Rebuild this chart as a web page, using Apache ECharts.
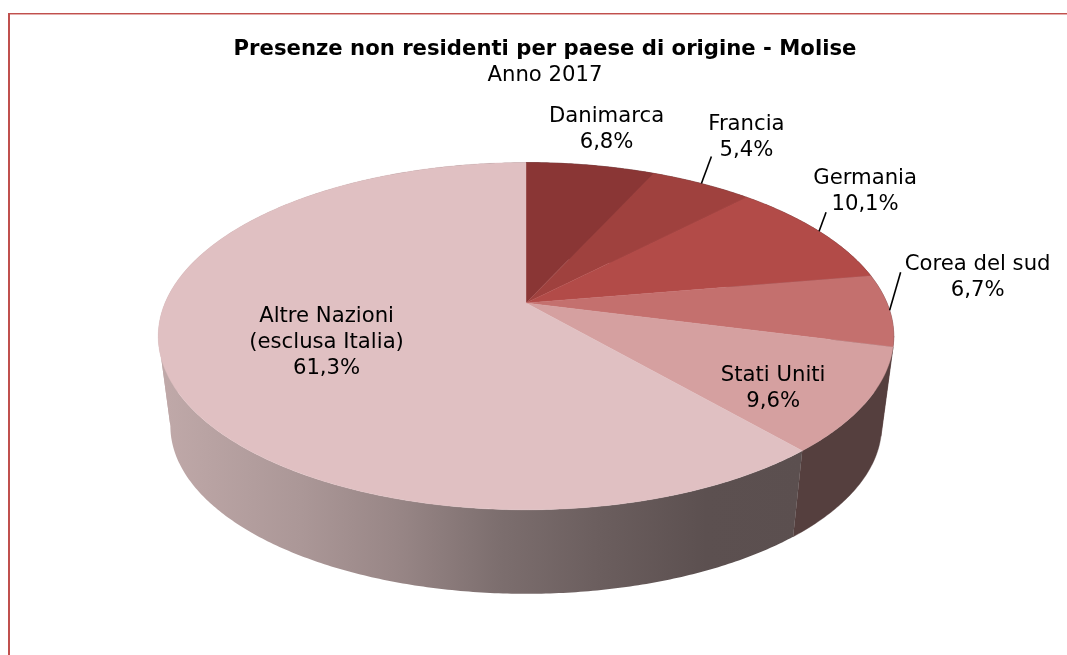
<!DOCTYPE html>
<html>
<head>
<meta charset="utf-8">
<style>html,body{margin:0;padding:0;background:#fff}#c{width:1067px;height:655px}</style>
<script src="https://cdn.jsdelivr.net/npm/echarts@6/dist/echarts.min.js"></script>
</head>
<body>
<div id="c"></div>
<script>
// ---- data ----
const categories = ['Danimarca', 'Francia', 'Germania', 'Corea del sud', 'Stati Uniti', 'Altre Nazioni\n(esclusa Italia)'];
const values = [6.8, 5.4, 10.1, 6.7, 9.6, 61.3];
const titleText = 'Presenze non residenti per paese di origine - Molise';
const subtitleText = 'Anno 2017';

// ---- styles ----
const topColors = ['#8a3635', '#9f413e', '#b24b48', '#c4706e', '#d5a0a0', '#e0c0c2'];
const sideColors = ['#4a2b2b', '#4f2e2e', '#553030', '#5c4040', '#553f3e', null];
const labelOffsets = [[16, -36], [45, -46], [46, -39.5], [88, -32.5], [-94, -13], [163, -23]];
const leaderOffsets = [null, [10, -27], [7, -19], [11, -38], null, null];
const FONT = '"DejaVu Sans", Verdana, sans-serif';

// ---- perspective projection of the disc ----
const CX = 526, CY = 303, R = 361, H = 167.3, K = 0.191;
const VP = 3055, S = 0.967;
const SUM = values.reduce((a, b) => a + b, 0);
const cum = [0];
values.forEach((v, i) => cum.push(cum[i] + v));
const ang = v => v / SUM * Math.PI * 2;
// angles where the rim turns from front-facing to back-facing
const FOLDS = [Math.PI - Math.acos(K), Math.PI + Math.acos(K)];
function topPt(t) {
  const X = Math.sin(t), Z = Math.cos(t), d = 1 + K * Z;
  return [CX + R * X / d, CY - H * Z / d];
}
function botPt(t) {
  const p = topPt(t);
  return [CX + (p[0] - CX) * S, VP + (p[1] - VP) * S];
}
function arc(fn, a, b) {
  const n = Math.max(2, Math.ceil(Math.abs(b - a) / 0.01));
  const out = [];
  for (let i = 0; i <= n; i++) out.push(fn(a + (b - a) * i / n));
  return out;
}
function rimPieces(a, b) {
  const cuts = [a].concat(FOLDS.filter(f => f > a && f < b), [b]);
  const out = [];
  for (let i = 0; i < cuts.length - 1; i++) {
    out.push(arc(topPt, cuts[i], cuts[i + 1]).concat(arc(botPt, cuts[i + 1], cuts[i])));
  }
  return out;
}

const sideGradient = new echarts.graphic.LinearGradient(160, 0, 802, 0, [
  { offset: 0, color: '#c0a9a9' },
  { offset: 0.22, color: '#ab9797' },
  { offset: 0.37, color: '#988686' },
  { offset: 0.53, color: '#7c6e6e' },
  { offset: 0.685, color: '#6b5e5e' },
  { offset: 0.85, color: '#5c5050' },
  { offset: 1, color: '#5b4f4f' }
], true);

const seriesData = values.map((v, i) => ({ name: categories[i], value: v }));

const option = {
  animation: false,
  backgroundColor: '#ffffff',
  title: {
    text: titleText,
    subtext: subtitleText,
    left: 540, top: 34, textAlign: 'center', itemGap: 5,
    textStyle: { fontFamily: FONT, fontSize: 21.2, fontWeight: 'bold', color: '#000' },
    subtextStyle: { fontFamily: FONT, fontSize: 21.2, color: '#000' }
  },
  graphic: [
    { type: 'rect', shape: { x: 8, y: 13, width: 1059, height: 1.4 }, style: { fill: '#c0504d' }, silent: true },
    { type: 'rect', shape: { x: 8, y: 14.4, width: 1059, height: 0.7 }, style: { fill: '#eab6b4' }, silent: true },
    { type: 'rect', shape: { x: 8, y: 13, width: 2, height: 642 }, style: { fill: '#c0504d' }, silent: true }
  ],
  series: [
    {
      type: 'custom', coordinateSystem: 'none', silent: true, z: 1, data: seriesData,
      renderItem(params) {
        const i = params.dataIndex;
        const fill = sideColors[i] || sideGradient;
        return {
          type: 'group',
          children: rimPieces(ang(cum[i]), ang(cum[i + 1])).map(pts => ({
            type: 'polygon', shape: { points: pts },
            style: { fill, stroke: sideColors[i] ? fill : null, lineWidth: sideColors[i] ? 0.4 : 0 }
          }))
        };
      }
    },
    {
      type: 'custom', coordinateSystem: 'none', silent: true, z: 2, data: seriesData,
      renderItem(params) {
        const i = params.dataIndex;
        const pts = [[CX, CY]].concat(arc(topPt, ang(cum[i]), ang(cum[i + 1])));
        return { type: 'polygon', shape: { points: pts }, style: { fill: topColors[i], stroke: topColors[i], lineWidth: 0.4 } };
      }
    },
    {
      type: 'custom', coordinateSystem: 'none', silent: true, z: 3, data: seriesData,
      renderItem(params) {
        const i = params.dataIndex;
        const p = topPt(ang((cum[i] + cum[i + 1]) / 2));
        const off = labelOffsets[i], lead = leaderOffsets[i];
        const children = [{
          type: 'text',
          style: {
            x: p[0] + off[0], y: p[1] + off[1],
            text: categories[i] + '\n' + String(values[i]).replace('.', ',') + '%',
            align: 'center', verticalAlign: 'middle',
            font: '21.2px ' + FONT, lineHeight: 26, fill: '#000'
          }
        }];
        if (lead) children.push({
          type: 'line',
          shape: { x1: p[0], y1: p[1], x2: p[0] + lead[0], y2: p[1] + lead[1] },
          style: { stroke: '#000', lineWidth: 1.6 }
        });
        return { type: 'group', children };
      }
    }
  ]
};
echarts.init(document.getElementById('c'), null, { renderer: 'canvas' }).setOption(option);
</script>
</body>
</html>
